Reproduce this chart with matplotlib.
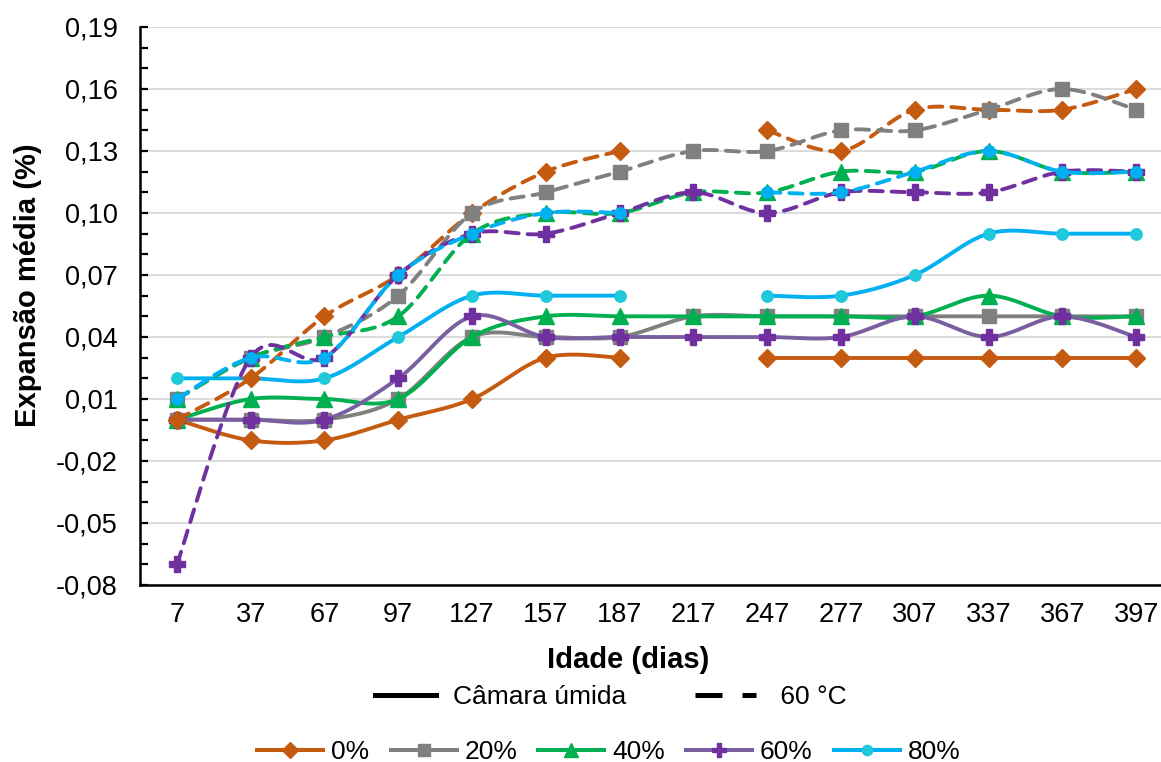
import numpy as np
import matplotlib
matplotlib.use("Agg")
import matplotlib.pyplot as plt
from matplotlib.lines import Line2D
from matplotlib.ticker import FuncFormatter, MultipleLocator

plt.rcParams["font.family"] = ["Liberation Sans", "DejaVu Sans"]

nan = np.nan
ages = [7, 37, 67, 97, 127, 157, 187, 217, 247, 277, 307, 337, 367, 397]
groups = ["0%", "20%", "40%", "60%", "80%"]

# Câmara úmida (solid lines)
wet_0 = [0.00, -0.01, -0.01, 0.00, 0.01, 0.03, 0.03, nan, 0.03, 0.03, 0.03, 0.03, 0.03, 0.03]
wet_20 = [0.00, 0.00, 0.00, 0.01, 0.04, 0.04, 0.04, 0.05, 0.05, 0.05, 0.05, 0.05, 0.05, 0.05]
wet_40 = [0.00, 0.01, 0.01, 0.01, 0.04, 0.05, 0.05, 0.05, 0.05, 0.05, 0.05, 0.06, 0.05, 0.05]
wet_60 = [0.00, 0.00, 0.00, 0.02, 0.05, 0.04, 0.04, 0.04, 0.04, 0.04, 0.05, 0.04, 0.05, 0.04]
wet_80 = [0.02, 0.02, 0.02, 0.04, 0.06, 0.06, 0.06, nan, 0.06, 0.06, 0.07, 0.09, 0.09, 0.09]

# 60 °C (dashed lines)
hot_0 = [0.00, 0.02, 0.05, 0.07, 0.10, 0.12, 0.13, nan, 0.14, 0.13, 0.15, 0.15, 0.15, 0.16]
hot_20 = [0.01, 0.03, 0.04, 0.06, 0.10, 0.11, 0.12, 0.13, 0.13, 0.14, 0.14, 0.15, 0.16, 0.15]
hot_40 = [0.01, 0.03, 0.04, 0.05, 0.09, 0.10, 0.10, 0.11, 0.11, 0.12, 0.12, 0.13, 0.12, 0.12]
hot_60 = [-0.07, 0.03, 0.03, 0.07, 0.09, 0.09, 0.10, 0.11, 0.10, 0.11, 0.11, 0.11, 0.12, 0.12]
hot_80 = [0.01, 0.03, 0.03, 0.07, 0.09, 0.10, 0.10, nan, 0.11, 0.11, 0.12, 0.13, 0.12, 0.12]

yticks = [-0.08, -0.05, -0.02, 0.01, 0.04, 0.07, 0.10, 0.13, 0.16, 0.19]

line_colors = ["#C55A11", "#808080", "#00B050", "#7A5FA0", "#00B0F0"]
marker_colors = ["#C55A11", "#808080", "#00B050", "#7030A0", "#1FC8DA"]
dash_line_colors = ["#C55A11", "#808080", "#00B050", "#7030A0", "#00B0F0"]
dash_marker_colors = ["#C55A11", "#808080", "#00B050", "#7030A0", "#00B0F0"]
markers = ["D", "s", "^", "P", "o"]
msizes = [8.8, 10, 11, 11.5, 8.2]


def smooth_runs(x, y, n=40):
    """Bezier-smoothed pieces through each run of consecutive valid points."""
    x = np.asarray(x, float)
    y = np.asarray(y, float)
    ok = np.isfinite(y)
    runs, cur = [], []
    for i in range(len(y)):
        if ok[i]:
            cur.append(i)
        elif cur:
            runs.append(cur)
            cur = []
    if cur:
        runs.append(cur)
    out = []
    t = np.linspace(0, 1, n)[:, None]
    for r in runs:
        P = np.column_stack([x[r], y[r]])
        if len(P) < 2:
            continue
        pts = []
        for k in range(len(P) - 1):
            p0 = P[k - 1] if k > 0 else P[k]
            p1, p2 = P[k], P[k + 1]
            p3 = P[k + 2] if k + 2 < len(P) else P[k + 1]
            c1 = p1 + (p2 - p0) / 6.0
            c2 = p2 - (p3 - p1) / 6.0
            seg = ((1 - t) ** 3) * p1 + 3 * ((1 - t) ** 2) * t * c1 \
                + 3 * (1 - t) * t ** 2 * c2 + t ** 3 * p2
            pts.append(seg if k == 0 else seg[1:])
        out.append(np.vstack(pts))
    return out


W, H = 1161, 762
fig = plt.figure(figsize=(W / 100, H / 100), dpi=100)
ax = fig.add_axes([140 / W, 1 - 585 / H, 1033 / W, (585 - 27) / H])

xpos = np.arange(len(ages))
lw = 2.8
dash = (3.4, 2.3)

z = 3
for vals, lc, mc, m, ms in zip([wet_0, wet_20, wet_40, wet_60, wet_80],
                               line_colors, marker_colors, markers, msizes):
    for piece in smooth_runs(xpos, vals):
        ax.plot(piece[:, 0], piece[:, 1], color=lc, lw=lw, zorder=z,
                solid_capstyle="round")
    ax.plot(xpos, vals, ls="none", marker=m, ms=ms, color=mc, mec=mc, zorder=z + 0.5)
    z += 1

for vals, lc, mc, m, ms in zip([hot_0, hot_20, hot_40, hot_60, hot_80],
                               dash_line_colors, dash_marker_colors, markers, msizes):
    for piece in smooth_runs(xpos, vals):
        ax.plot(piece[:, 0], piece[:, 1], color=lc, lw=lw, zorder=z,
                dashes=dash, dash_capstyle="round")
    ax.plot(xpos, vals, ls="none", marker=m, ms=ms, color=mc, mec=mc, zorder=z + 0.5)
    z += 1

ax.set_xlim(-0.5, len(ages) - 0.5)
ax.set_ylim(-0.08, 0.19)
ax.set_xticks(xpos)
ax.set_xticklabels([str(a) for a in ages])
ax.set_yticks(yticks)
ax.yaxis.set_minor_locator(MultipleLocator(0.01))
ax.yaxis.set_major_formatter(FuncFormatter(lambda v, p: f"{v:.2f}".replace(".", ",")))
ax.tick_params(axis="x", length=0, pad=12, labelsize=19.5)
ax.tick_params(axis="y", which="both", direction="in", length=6, width=1.6,
               labelsize=19.5, pad=16)
ax.grid(axis="y", which="major", color="#D9D9D9", lw=1.3, zorder=0)
ax.set_axisbelow(True)
for s in ["top", "right"]:
    ax.spines[s].set_visible(False)
for s in ["left", "bottom"]:
    ax.spines[s].set_linewidth(1.8)
    ax.spines[s].set_color("black")

fig.text(28 / W, 1 - 285 / H, "Expansão média (%)", rotation=90, ha="center",
         va="center", fontsize=21, fontweight="bold")
fig.text(628 / W, 1 - 660 / H, "Idade (dias)", ha="center", va="center",
         fontsize=21, fontweight="bold")

# Line-style legend
style_handles = [
    Line2D([], [], color="black", lw=3.6),
    Line2D([], [], color="black", lw=3.6, dashes=(5.4, 4.0)),
]
leg1 = fig.legend(style_handles, ["Câmara úmida", " 60 °C"], loc="center",
                  bbox_to_anchor=(611 / W, 1 - 697 / H), ncol=2, frameon=False,
                  fontsize=19, handlelength=2.3, handletextpad=0.65,
                  columnspacing=2.6, borderpad=0, borderaxespad=0)

# Group legend
legend_line_colors = ["#C55A11", "#808080", "#00B050", "#7A5FA0", "#00B0F0"]
legend_marker_colors = ["#C55A11", "#808080", "#00B050", "#7030A0", "#1FC8DA"]
group_handles = [
    Line2D([], [], color=legend_line_colors[i], lw=2.9, marker=markers[i],
           ms=msizes[i] * 0.9, mfc=legend_marker_colors[i], mec=legend_marker_colors[i])
    for i in range(5)
]
leg2 = fig.legend(group_handles, groups, loc="center",
                  bbox_to_anchor=(609 / W, 1 - 752 / H), ncol=5, frameon=False,
                  fontsize=19, handlelength=2.5, handletextpad=0.3,
                  columnspacing=0.8, borderpad=0, borderaxespad=0, numpoints=1)

fig.savefig("out.png", dpi=100)
